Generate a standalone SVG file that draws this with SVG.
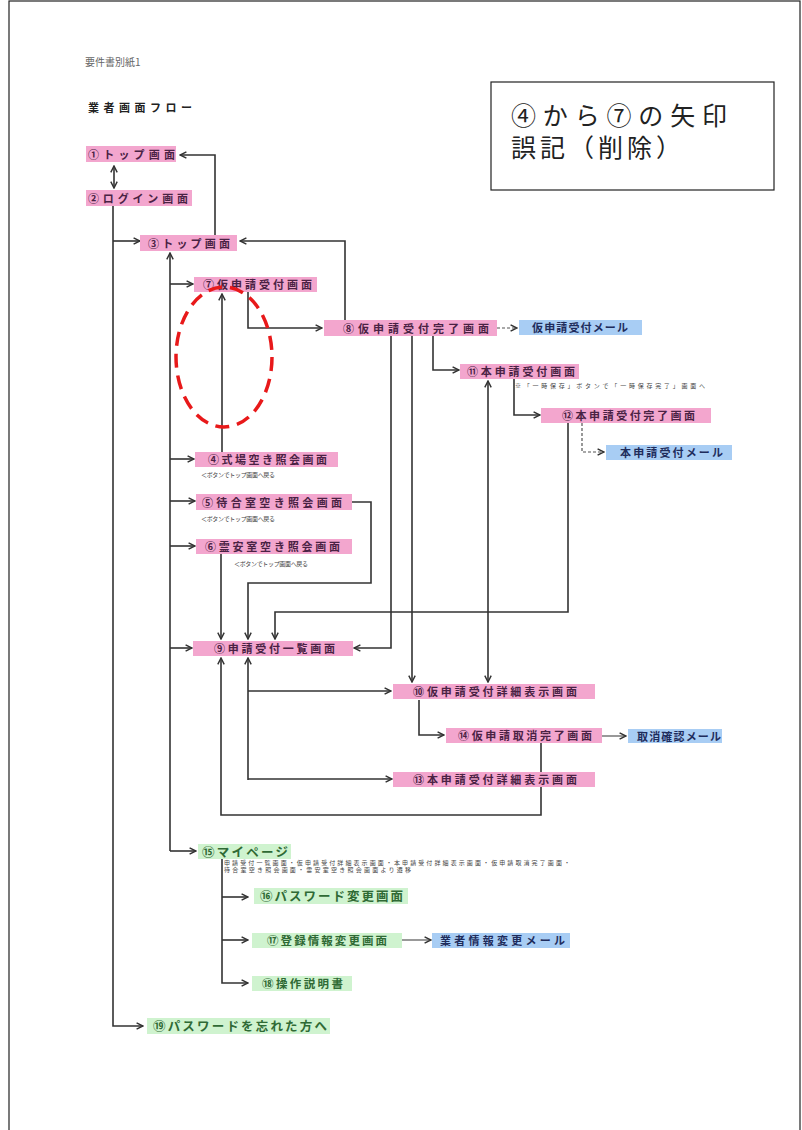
<svg xmlns="http://www.w3.org/2000/svg" width="802" height="1130" viewBox="0 0 802 1130">
<defs>
<style>
.pk{fill:#f3a6ce}
.bl{fill:#a8cdf4}
.gr{fill:#cff3cf}
.t{font-family:"Noto Sans CJK JP","Noto Sans",sans-serif;font-size:11px;font-weight:bold;fill:#4a2244}
.tb{font-family:"Noto Sans CJK JP","Noto Sans",sans-serif;font-size:11px;font-weight:bold;fill:#1e2c5c}
.tg{font-family:"Noto Sans CJK JP","Noto Sans",sans-serif;font-size:12.5px;font-weight:bold;fill:#2f6a35}
.n{font-family:"Noto Sans CJK JP","Noto Sans",sans-serif;font-size:6px;fill:#444}
.c{fill:none;stroke:#333;stroke-width:1.6}
.d{fill:none;stroke:#555;stroke-width:1.2;stroke-dasharray:3 2}
</style>
<marker id="ah" viewBox="0 0 10 10" refX="9" refY="5" markerWidth="8" markerHeight="9" orient="auto-start-reverse" markerUnits="userSpaceOnUse">
<path d="M1,1 L9,5 L1,9" fill="none" stroke="#333" stroke-width="1.8"/>
</marker>
</defs>
<rect x="0" y="0" width="802" height="1130" fill="#fff"/>
<rect x="9" y="1" width="791" height="1140" fill="none" stroke="#222" stroke-width="1.2"/>

<text x="85" y="66" font-family="'Noto Sans CJK JP',sans-serif" font-size="10" fill="#666">要件書別紙1</text>
<text x="88" y="112" font-family="'Noto Sans CJK JP',sans-serif" font-size="11" font-weight="bold" fill="#222" textLength="104">業者画面フロー</text>

<g id="connectors">
<path class="c" d="M114,166 V188" marker-start="url(#ah)" marker-end="url(#ah)"/>
<path class="c" d="M215,236 V155 H180" marker-end="url(#ah)"/>
<path class="c" d="M113,206 V1026 H143" marker-end="url(#ah)"/>
<path class="c" d="M113,241 H140" marker-end="url(#ah)"/>
<path class="c" d="M345,321 V241 H240" marker-end="url(#ah)"/>
<path class="c" d="M170,851 V253" marker-end="url(#ah)"/>
<path class="c" d="M170,284 H193" marker-end="url(#ah)"/>
<path class="c" d="M170,459 H194" marker-end="url(#ah)"/>
<path class="c" d="M170,501 H195" marker-end="url(#ah)"/>
<path class="c" d="M170,546 H195" marker-end="url(#ah)"/>
<path class="c" d="M170,648 H192" marker-end="url(#ah)"/>
<path class="c" d="M170,851 H196" marker-end="url(#ah)"/>
<path class="c" d="M248,292 V328 H322" marker-end="url(#ah)"/>
<path class="c" d="M222,452 V294" marker-end="url(#ah)"/>
<path class="d" d="M497,328 H517" marker-end="url(#ah)"/>
<path class="c" d="M433,336 V370 H459" marker-end="url(#ah)"/>
<path class="c" d="M391,336 V648 H354" marker-end="url(#ah)"/>
<path class="c" d="M412,336 V682" marker-end="url(#ah)"/>
<path class="c" d="M514,379 V415 H540" marker-end="url(#ah)"/>
<path class="c" d="M488,682 V381" marker-start="url(#ah)" marker-end="url(#ah)"/>
<path class="d" d="M582,423 V452 H604" marker-end="url(#ah)"/>
<path class="c" d="M568,423 V612 H275 V639" marker-end="url(#ah)"/>
<path class="c" d="M352,502 H371 V583 H248 V639" marker-end="url(#ah)"/>
<path class="c" d="M221,554 V639" marker-end="url(#ah)"/>
<path class="c" d="M248,780 V658" marker-end="url(#ah)"/>
<path class="c" d="M248,691 H391" marker-end="url(#ah)"/>
<path class="c" d="M248,779 H392" marker-end="url(#ah)"/>
<path class="c" d="M541,743 V815 H221 V658" marker-end="url(#ah)"/>
<path class="c" d="M419,700 V735 H444" marker-end="url(#ah)"/>
<path class="c" d="M602,736 H626" marker-end="url(#ah)" style="stroke:#555;stroke-width:1.2"/>
<path class="c" d="M222,858 V983 H248" marker-end="url(#ah)"/>
<path class="c" d="M222,897 H248" marker-end="url(#ah)"/>
<path class="c" d="M222,940 H248" marker-end="url(#ah)"/>
<path class="c" d="M402,940 H431" marker-end="url(#ah)" style="stroke:#555;stroke-width:1.2"/>
</g>

<g id="n1"><rect class="pk" x="86" y="146" width="90" height="16"/><text class="t" x="88" y="158.5" textLength="87">①トップ画面</text></g>
<g id="n2"><rect class="pk" x="86" y="190" width="106" height="16"/><text class="t" x="88" y="202.5" textLength="100">②ログイン画面</text></g>
<g id="n3"><rect class="pk" x="140" y="235" width="97" height="16"/><text class="t" x="148" y="247.5" textLength="82">③トップ画面</text></g>
<g id="n7"><rect class="pk" x="194" y="277" width="123" height="15"/><text class="t" x="203" y="289" textLength="109">⑦仮申請受付画面</text></g>
<g id="n8"><rect class="pk" x="324" y="320" width="173" height="16"/><text class="t" x="343" y="332.5" textLength="146">⑧仮申請受付完了画面</text></g>
<g id="m8"><rect class="bl" x="519" y="320" width="123" height="15"/><text class="tb" x="532" y="332" textLength="96">仮申請受付メール</text></g>
<g id="n11"><rect class="pk" x="460" y="364" width="119" height="15"/><text class="t" x="467" y="376" textLength="108">⑪本申請受付画面</text>
<text class="n" x="515" y="388" textLength="190">※「一時保存」ボタンで「一時保存完了」画面へ</text></g>
<g id="n12"><rect class="pk" x="541" y="408" width="170" height="15"/><text class="t" x="562" y="420" textLength="133">⑫本申請受付完了画面</text></g>
<g id="m12"><rect class="bl" x="606" y="445" width="126" height="15"/><text class="tb" x="620" y="457" textLength="103">本申請受付メール</text></g>
<g id="n4"><rect class="pk" x="195" y="452" width="143" height="15"/><text class="t" x="208" y="464" textLength="119">④式場空き照会画面</text>
<text class="n" x="201" y="477" textLength="74">＜ボタンでトップ画面へ戻る</text></g>
<g id="n5"><rect class="pk" x="196" y="494" width="156" height="16"/><text class="t" x="202" y="506.5" textLength="140">⑤待合室空き照会画面</text>
<text class="n" x="201" y="521" textLength="74">＜ボタンでトップ画面へ戻る</text></g>
<g id="n6"><rect class="pk" x="196" y="539" width="156" height="15"/><text class="t" x="205" y="551" textLength="135">⑥霊安室空き照会画面</text>
<text class="n" x="234" y="566" textLength="74">＜ボタンでトップ画面へ戻る</text></g>
<g id="n9"><rect class="pk" x="193" y="641" width="160" height="15"/><text class="t" x="214" y="653" textLength="121">⑨申請受付一覧画面</text></g>
<g id="n10"><rect class="pk" x="393" y="684" width="202" height="15"/><text class="t" x="413" y="696" textLength="164">⑩仮申請受付詳細表示画面</text></g>
<g id="n14"><rect class="pk" x="446" y="728" width="156" height="15"/><text class="t" x="458" y="740" textLength="134">⑭仮申請取消完了画面</text></g>
<g id="m14"><rect class="bl" x="628" y="729" width="94" height="14"/><text class="tb" x="637" y="740.5" textLength="84">取消確認メール</text></g>
<g id="n13"><rect class="pk" x="393" y="772" width="202" height="15"/><text class="t" x="413" y="784" textLength="164">⑬本申請受付詳細表示画面</text></g>
<g id="n15"><rect class="gr" x="198" y="844" width="93" height="15"/><text class="tg" x="202" y="856.5" textLength="86">⑮マイページ</text>
<text class="n" x="224" y="865" textLength="346">申請受付一覧画面・仮申請受付詳細表示画面・本申請受付詳細表示画面・仮申請取消完了画面・</text>
<text class="n" x="224" y="872" textLength="187">待合室空き照会画面・霊安室空き照会画面より遷移</text></g>
<g id="n16"><rect class="gr" x="254" y="888" width="154" height="16"/><text class="tg" x="260" y="900.5" textLength="143">⑯パスワード変更画面</text></g>
<g id="n17"><rect class="gr" x="252" y="933" width="150" height="15"/><text class="tg" x="267" y="945" textLength="120" style="font-size:11.5px">⑰登録情報変更画面</text></g>
<g id="m17"><rect class="bl" x="432" y="933" width="138" height="15"/><text class="tb" x="440" y="945" textLength="125">業者情報変更メール</text></g>
<g id="n18"><rect class="gr" x="252" y="976" width="100" height="15"/><text class="tg" x="262" y="988" textLength="81" style="font-size:11.5px">⑱操作説明書</text></g>
<g id="n19"><rect class="gr" x="147" y="1018" width="183" height="16"/><text class="tg" x="153" y="1030.5" textLength="174">⑲パスワードを忘れた方へ</text></g>

<g id="note">
<rect x="491" y="82" width="283" height="108" fill="#fff" stroke="#222" stroke-width="1.2"/>
<text x="511" y="125" font-family="'Liberation Serif','Noto Sans CJK JP',serif" font-size="25" fill="#222" textLength="216">④から⑦の矢印</text>
<text x="511" y="157" font-family="'Liberation Serif','Noto Sans CJK JP',serif" font-size="25" fill="#222" textLength="170">誤記（削除）</text>
</g>
<ellipse cx="224" cy="357" rx="48" ry="70" fill="none" stroke="#e8191a" stroke-width="3.5" stroke-dasharray="14 8"/>
</svg>
